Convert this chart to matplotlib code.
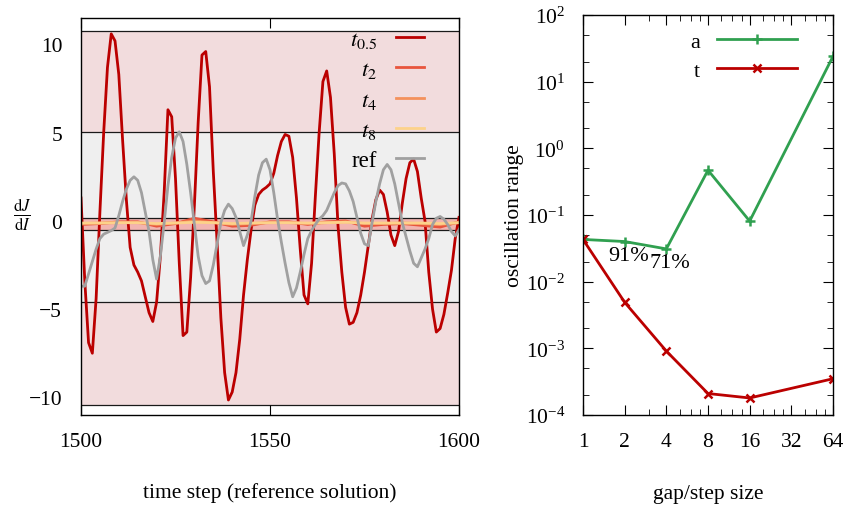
import numpy as np
import matplotlib
matplotlib.use('Agg')
import matplotlib.pyplot as plt
from matplotlib.ticker import FixedLocator, FuncFormatter, LogLocator, NullFormatter

plt.rcParams['font.family'] = ['Liberation Serif', 'DejaVu Serif']
plt.rcParams['mathtext.fontset'] = 'stix'
plt.rcParams['font.size'] = 15.5

# left panel: dJ/dI over time steps 1500..1600
steps = np.arange(1500, 1601)
t05 = [1.3, -3.4, -6.9, -7.5, -4.4, 0.5, 5.0, 8.7, 10.6, 10.2,
       8.3, 4.6, 1.2, -1.5, -2.5, -2.9, -3.4, -4.3, -5.2, -5.7,
       -4.6, -2.0, 1.6, 6.3, 5.9, 2.4, -2.4, -6.5, -6.3, -3.2,
       0.9, 5.6, 9.4, 9.6, 7.6, 2.8, -1.2, -5.5, -8.6, -10.15,
       -9.7, -8.6, -6.7, -4.2, -2.2, -0.5, 0.9, 1.5, 1.75, 1.9,
       2.1, 2.7, 3.7, 4.5, 4.9, 4.8, 3.6, 1.3, -1.6, -4.2,
       -4.7, -2.4, 1.4, 5.0, 7.9, 8.5, 7.0, 3.8, -0.3, -2.9,
       -4.9, -5.85, -5.75, -5.2, -4.2, -2.9, -1.4, 0.1, 1.2, 1.75,
       1.5, 0.5, -0.8, -1.4, -0.6, 1.0, 2.4, 3.3, 3.5, 2.8,
       1.3, 0.0, -2.9, -5.0, -6.3, -6.1, -5.3, -4.1, -2.8, -1.0,
       0.2]
ref = [-3.7, -3.7, -3.0, -2.3, -1.6, -1.0, -0.75, -0.65, -0.55, -0.4,
       0.3, 1.1, 1.8, 2.3, 2.5, 2.3, 1.6, 0.5, -0.6, -2.2,
       -3.3, -2.0, -0.1, 2.0, 3.6, 4.7, 5.05, 4.5, 3.2, 1.6,
       -0.2, -2.0, -3.1, -3.55, -3.4, -2.5, -1.3, -0.1, 0.6, 0.95,
       0.7, 0.2, -0.6, -1.4, -0.8, 0.0, 1.4, 2.6, 3.3, 3.5,
       2.9, 1.6, 0.1, -1.2, -2.4, -3.5, -4.3, -3.8, -2.9, -1.9,
       -1.0, -0.55, -0.2, 0.1, 0.3, 0.6, 1.1, 1.6, 2.0, 2.15,
       2.1, 1.7, 1.1, 0.2, -0.7, -1.3, -1.4, -0.1, 1.1, 2.1,
       2.9, 3.2, 2.9, 2.1, 1.0, -0.1, -0.9, -1.7, -2.4, -2.6,
       -2.1, -1.6, -1.0, -0.2, 0.15, 0.25, 0.1, -0.2, -0.6, -0.85,
       -0.5]
coarse_steps = np.arange(1500, 1601, 5)
t2 = [-0.2, -0.15, -0.05, -0.05, -0.3, -0.15, 0.15, -0.05, -0.3, -0.25, -0.05,
      -0.05, -0.2, -0.05, 0.0, -0.3, -0.2, -0.15, -0.25, -0.35, -0.05]
t4 = [-0.15, -0.12, -0.1, -0.1, -0.2, -0.12, 0.0, -0.1, -0.2, -0.15, -0.1,
      -0.1, -0.15, -0.1, -0.05, -0.15, -0.15, -0.12, -0.15, -0.2, -0.1]
t8 = [-0.12, -0.12, -0.1, -0.1, -0.15, -0.12, -0.08, -0.1, -0.15, -0.12, -0.1,
      -0.1, -0.12, -0.1, -0.08, -0.12, -0.12, -0.12, -0.12, -0.15, -0.1]

# min/max ranges shown as bands
band_t05 = (-10.41, 10.77)
band_ref = (-4.61, 5.02)
band_t2 = (-0.50, 0.16)

# right panel: oscillation range vs gap size
gap = [1, 2, 4, 8, 16, 64]
range_a = [0.043, 0.040, 0.031, 0.47, 0.081, 24]
range_t = [0.043, 0.0049, 0.00091, 0.00021, 0.00018, 0.00035]
pct_labels = ['91%', '71%']

c_t05 = '#bb0000'
c_t2 = '#e8553d'
c_t4 = '#f4915c'
c_t8 = '#fdd28a'
c_ref = '#a0a0a0'
c_green = '#30a050'

fig = plt.figure(figsize=(8.44, 5.06), dpi=100)
ax1 = fig.add_axes([81 / 844, 1 - 416 / 506, 378 / 844, 397 / 506])
ax2 = fig.add_axes([583 / 844, 1 - 416 / 506, 250 / 844, 400 / 506])

# bands
for (lo, hi), col in [(band_t05, '#f2dcdd'), (band_ref, '#efefef'), (band_t2, '#f2b4b0')]:
    ax1.axhspan(lo, hi, color=col, lw=0, zorder=0.5)
    ax1.axhline(lo, color='#1a1a1a', lw=0.9, zorder=0.6)
    ax1.axhline(hi, color='#1a1a1a', lw=0.9, zorder=0.6)

ax1.plot(steps, t05, color=c_t05, lw=2, label=r'$t_{0.5}$')
ax1.plot(coarse_steps, t2, color=c_t2, lw=2, label=r'$t_2$')
ax1.plot(coarse_steps, t4, color=c_t4, lw=2, label=r'$t_4$')
ax1.plot(coarse_steps, t8, color=c_t8, lw=2, label=r'$t_8$')
ax1.plot(steps, ref, color=c_ref, lw=2, label='ref')

ax1.set_xlim(1500, 1600)
ax1.set_ylim(-11, 11.5)
ax1.set_xticks([1500, 1550, 1600])
ax1.set_yticks([-10, -5, 0, 5, 10])
ax1.tick_params(axis='x', direction='in', top=True, length=7, pad=12)
ax1.tick_params(axis='y', length=0, pad=13.5)
ax1.set_xlabel('time step (reference solution)')
ax1.xaxis.set_label_coords(0.5, -0.168)
ax1.set_ylabel(r'$\frac{\mathrm{d}J}{\mathrm{d}I}$', rotation=0, ha='center', va='center',
               fontsize=17)
ax1.yaxis.set_label_coords(-0.156, 0.506)
ax1.legend(loc='upper right', bbox_to_anchor=(0.907, 0.972), frameon=False,
           markerfirst=False, handlelength=1.2, handletextpad=0.85,
           labelspacing=0.4, borderpad=0, borderaxespad=0, fontsize=16.5)

ax2.plot(gap, range_a, color=c_green, lw=2, marker='+', ms=7, mew=1.8, label='a')
ax2.plot(gap, range_t, color=c_t05, lw=2, marker='x', ms=6, mew=1.8, label='t')
for x, y, s in zip(gap[1:3], range_a[1:3], pct_labels):
    ax2.annotate(s, (x, y), xytext=(4, -14), textcoords='offset pixels',
                 ha='center', va='center', fontsize=16)

ax2.set_xscale('log', base=2)
ax2.set_yscale('log')
ax2.set_xlim(1, 64)
ax2.set_ylim(1e-4, 1e2)
ax2.xaxis.set_major_locator(FixedLocator([1, 2, 4, 8, 16, 32, 64]))
ax2.xaxis.set_major_formatter(FuncFormatter(lambda v, p: '%d' % v))
ax2.xaxis.set_minor_locator(FixedLocator([3, 5, 6, 7, 10, 12, 14, 20, 24, 28, 40, 48, 56]))
ax2.xaxis.set_minor_formatter(NullFormatter())
ax2.yaxis.set_major_locator(LogLocator(base=10, numticks=10))
ax2.yaxis.set_minor_locator(LogLocator(base=10, subs=(2, 5), numticks=10))
ax2.yaxis.set_minor_formatter(NullFormatter())
ax2.tick_params(which='both', direction='in', top=True, right=True)
ax2.tick_params(which='major', length=7)
ax2.tick_params(which='minor', length=4)
ax2.tick_params(axis='x', which='major', pad=12)
ax2.tick_params(axis='y', which='major', pad=13)
ax2.set_xlabel('gap/step size')
ax2.xaxis.set_label_coords(0.5, -0.172)
ax2.set_ylabel('oscillation range')
ax2.yaxis.set_label_coords(-0.236, 0.5)
ax2.legend(loc='upper right', bbox_to_anchor=(0.856, 0.96), frameon=False,
           markerfirst=False, handlelength=3.6, handletextpad=0.75,
           labelspacing=0.38, borderpad=0, borderaxespad=0, fontsize=16)

for ax in (ax1, ax2):
    for sp in ax.spines.values():
        sp.set_linewidth(1.0)

fig.savefig('out.png', dpi=100)
